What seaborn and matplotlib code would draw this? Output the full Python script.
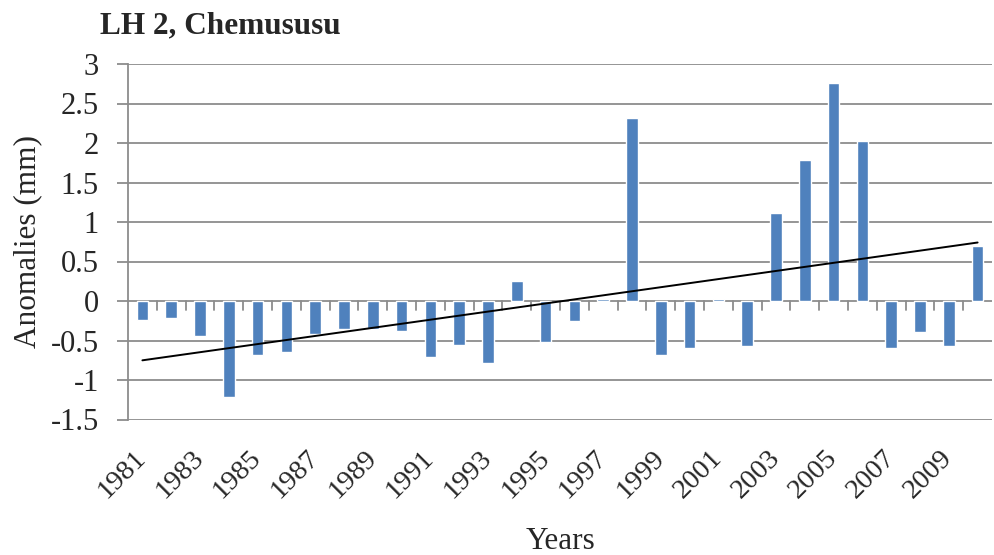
import numpy as np
import pandas as pd
import matplotlib
matplotlib.use("Agg")
import matplotlib.pyplot as plt
import seaborn as sns

years = list(range(1981, 2011))
anomalies = [-0.24, -0.21, -0.44, -1.21, -0.68, -0.65, -0.42, -0.35, -0.36, -0.38,
             -0.71, -0.56, -0.79, 0.25, -0.52, -0.25, 0.02, 2.32, -0.68, -0.60,
             0.03, -0.57, 1.12, 1.79, 2.76, 2.03, -0.59, -0.39, -0.57, 0.69]
title = "LH 2, Chemususu"
xlabel = "Years"
ylabel = "Anomalies (mm)"
yticks = [-1.5, -1, -0.5, 0, 0.5, 1, 1.5, 2, 2.5, 3]

sns.set_theme(style="white")
plt.rcParams['font.family'] = ['Liberation Serif', 'DejaVu Serif']

df = pd.DataFrame({"year": [str(y) for y in years], "anom": anomalies})

fs = 22.5
fig = plt.figure(figsize=(9.94, 5.55), dpi=100)
ax = fig.add_axes([128/994, 1 - 419.5/555, (992-128)/994, (419.5-64)/555])

grid_c = "#8c8c8c"
for t in yticks:
    ax.axhline(t, color=grid_c, lw=1.3, zorder=0)

sns.barplot(data=df, x="year", y="anom", color="#4f81bd", width=0.4,
            saturation=1, ax=ax, zorder=2)

# linear trend
xi = np.arange(len(years))
coef = np.polyfit(xi, anomalies, 1)
ax.plot(xi, np.polyval(coef, xi), color="black", lw=1.4, zorder=3)

ax.set_xlim(-0.5, len(years) - 0.5)
ax.set_ylim(-1.5, 3)
ax.set_yticks(yticks)
ax.set_yticklabels([f"{t:g}" for t in yticks], fontsize=22)
ax.tick_params(axis='y', length=8, color=grid_c, width=1.3, pad=13, left=True)

# x tick marks between categories on zero line
for b in np.arange(0.5, len(years) - 0.5, 1):
    ax.plot([b, b], [0, -0.115], color=grid_c, lw=1.3, zorder=1)

ax.set_xticks(xi[::2])
ax.set_xticklabels([str(y) for y in years[::2]], rotation=45, ha='right', va='center',
                   rotation_mode='anchor', fontsize=20.5)
ax.tick_params(axis='x', length=0, pad=25)

for s in ['top', 'right', 'bottom']:
    ax.spines[s].set_visible(False)
ax.spines['left'].set_color(grid_c)
ax.spines['left'].set_linewidth(1.3)

ax.set_xlabel(xlabel, fontsize=fs, labelpad=17)
ax.set_ylabel(ylabel, fontsize=fs, labelpad=6)
fig.text(100/994, 1 - 26/555, title, fontsize=fs, fontweight='bold', va='center', ha='left')

fig.savefig("out.png", dpi=100)
